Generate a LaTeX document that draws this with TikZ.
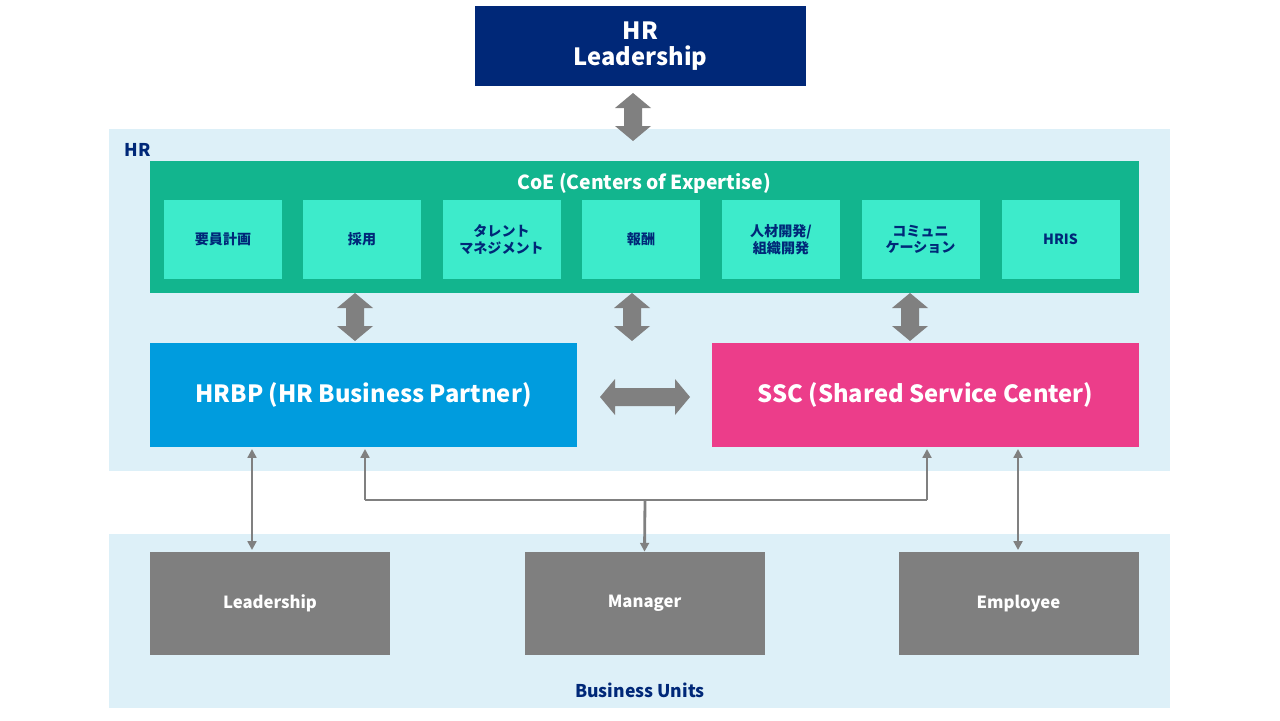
\documentclass[tikz,border=0pt]{standalone}
\usepackage{fontspec}
\setmainfont{Noto Sans CJK JP}
\usetikzlibrary{arrows.meta}
\definecolor{navy}{RGB}{0,40,120}
\definecolor{hrbg}{RGB}{221,240,248}
\definecolor{coe}{RGB}{18,181,142}
\definecolor{coein}{RGB}{61,235,203}
\definecolor{hrbp}{RGB}{0,156,222}
\definecolor{ssc}{RGB}{236,61,138}
\definecolor{gbox}{RGB}{127,127,127}
\definecolor{arr}{RGB}{128,128,128}
\newcommand\myVArrow[3]{\fill[arr] (#1,#2) -- (#1+18,#2+15) -- (#1+9,#2+15) -- (#1+9,#3-15) -- (#1+18,#3-15) -- (#1,#3) -- (#1-18,#3-15) -- (#1-9,#3-15) -- (#1-9,#2+15) -- (#1-18,#2+15) -- cycle;}
\begin{document}
\begin{tikzpicture}[x=0.02cm,y=-0.02cm,
  box/.style={inner sep=0pt,align=center,font=\bfseries},
  inbox/.style={box,fill=coein,text=navy,font=\bfseries\fontsize{8}{9.5}\selectfont,minimum width=118*0.02cm,minimum height=79*0.02cm},
  gb/.style={box,fill=gbox,text=white,font=\bfseries\fontsize{9.5}{11}\selectfont,minimum width=240*0.02cm,minimum height=103*0.02cm},
  ln/.style={arr,line width=1.6pt},
  la/.style={ln,-{Triangle[length=5pt,width=5pt]}}]
\useasboundingbox (0,0) rectangle (1280,720);
\fill[hrbg] (109,129) rectangle (1170,471);
\fill[hrbg] (109,534) rectangle (1170,708);
\node[text=navy,font=\bfseries\fontsize{10}{12}\selectfont] (hrl) at (138,150) {HR};
\node[text=navy,font=\bfseries\fontsize{10}{12}\selectfont] (bul) at (640,690) {Business Units};
\node[box,fill=navy,text=white,font=\bfseries\fontsize{13.5}{15}\selectfont,minimum width=331*0.02cm,minimum height=80*0.02cm] (lead) at (640.5,46) {HR\\Leadership};
\fill[coe] (150,161) rectangle (1139,293);
\node[text=white,font=\bfseries\fontsize{11}{13}\selectfont] (coet) at (644,183) {CoE (Centers of Expertise)};
\node[inbox] (c1) at (223,239.5) {要員計画};
\node[inbox] (c2) at (362,239.5) {採用};
\node[inbox] (c3) at (501.5,239.5) {タレント\\マネジメント};
\node[inbox] (c4) at (641,239.5) {報酬};
\node[inbox] (c5) at (781,239.5) {人材開発/\\組織開発};
\node[inbox] (c6) at (920.5,239.5) {コミュニ\\ケーション};
\node[inbox] (c7) at (1060.5,239.5) {HRIS};
\node[box,fill=hrbp,text=white,font=\bfseries\fontsize{13.5}{15}\selectfont,minimum width=427*0.02cm,minimum height=104*0.02cm] (hrbp) at (363.5,395) {HRBP (HR Business Partner)};
\node[box,fill=ssc,text=white,font=\bfseries\fontsize{13.5}{15}\selectfont,minimum width=427*0.02cm,minimum height=104*0.02cm] (ssc) at (925.5,395) {SSC (Shared Service Center)};
\node[gb] (bl) at (270,603.5) {Leadership};
\node[gb] (bm) at (644.5,603.5) {Manager};
\node[gb] (be) at (1018.5,603.5) {Employee};
\myVArrow{633}{93}{141}
\myVArrow{355}{293}{341}
\myVArrow{632}{293}{341}
\myVArrow{910}{293}{341}
\fill[arr] (600,397) -- (615,379) -- (615,388) -- (675,388) -- (675,379) -- (690,397) -- (675,415) -- (675,406) -- (615,406) -- (615,415) -- cycle;
\draw[la,{Triangle[length=5pt,width=5pt]}-{Triangle[length=5pt,width=5pt]}] (252,449) -- (252,550);
\draw[la,{Triangle[length=5pt,width=5pt]}-{Triangle[length=5pt,width=5pt]}] (1018,449) -- (1018,550);
\coordinate (jl) at (365,500);
\coordinate (jr) at (927,500);
\coordinate (jm) at (645,500);
\draw[ln] (jl) -- (jr);
\draw[la] (jl) -- (365,449);
\draw[la] (jr) -- (927,449);
\draw[la] (jm) -- (bm.north);
\end{tikzpicture}
\end{document}
